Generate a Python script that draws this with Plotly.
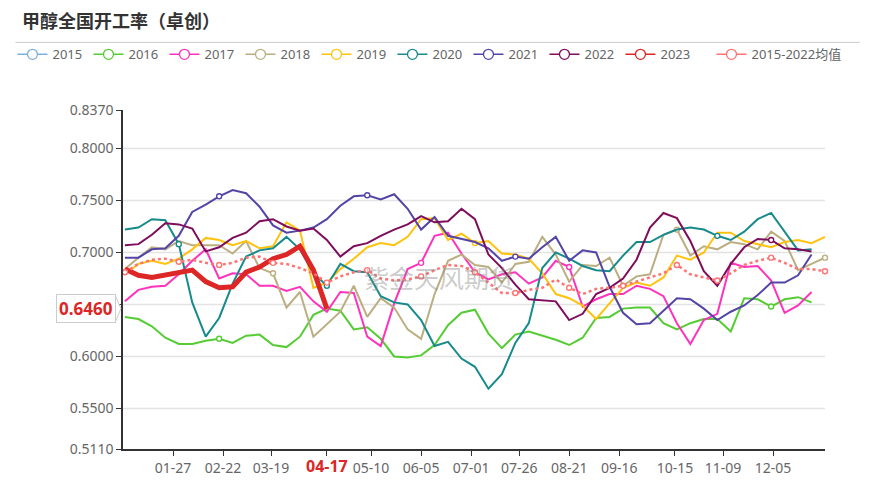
import pandas as pd
import plotly.graph_objects as go

TITLE = "甲醇全国开工率（卓创）"
WATERMARK = "紫金天风期货"

# weekly observation dates (mapped onto one calendar year)
WEEKS = pd.date_range("2023-01-02", periods=53, freq="7D")

TICK_DATES = ["2023-01-27", "2023-02-22", "2023-03-19", "2023-04-17", "2023-05-10",
              "2023-06-05", "2023-07-01", "2023-07-26", "2023-08-21", "2023-09-16",
              "2023-10-15", "2023-11-09", "2023-12-05"]
TICK_TEXT = ["01-27", "02-22", "03-19", "04-17", "05-10", "06-05", "07-01",
             "07-26", "08-21", "09-16", "10-15", "11-09", "12-05"]
Y_TICKS = [0.511, 0.55, 0.60, 0.65, 0.70, 0.75, 0.80, 0.837]

Y2015 = []
Y2016 = [0.638, 0.636, 0.629, 0.618, 0.612, 0.612, 0.615, 0.617, 0.613, 0.620, 0.621, 0.611, 0.609,
         0.619, 0.640, 0.646, 0.644, 0.626, 0.628, 0.617, 0.600, 0.599, 0.601, 0.611, 0.630, 0.642,
         0.645, 0.622, 0.608, 0.621, 0.624, 0.620, 0.616, 0.611, 0.618, 0.637, 0.638, 0.646, 0.647,
         0.647, 0.632, 0.626, 0.632, 0.636, 0.636, 0.624, 0.656, 0.655, 0.648, 0.655, 0.657, 0.652, None]
Y2017 = [0.653, 0.664, 0.667, 0.668, 0.679, 0.692, 0.703, 0.675, 0.680, 0.679, 0.668, 0.668, 0.663,
         0.667, 0.653, 0.643, 0.662, 0.661, 0.619, 0.610, 0.651, 0.684, 0.690, 0.716, 0.719, 0.699,
         0.681, 0.674, 0.679, 0.681, 0.670, 0.676, 0.692, 0.686, 0.648, 0.655, 0.660, 0.660, 0.668,
         0.665, 0.658, 0.632, 0.612, 0.635, 0.641, 0.690, 0.686, 0.687, 0.673, 0.642, 0.649, 0.662, None]
Y2018 = [0.684, 0.695, 0.705, 0.703, 0.711, 0.707, 0.707, 0.707, 0.699, 0.711, 0.685, 0.680, 0.647,
         0.662, 0.619, 0.631, 0.643, 0.668, 0.638, 0.656, 0.647, 0.626, 0.617, 0.660, 0.692, 0.698,
         0.688, 0.686, 0.671, 0.689, 0.691, 0.715, 0.698, 0.672, 0.688, 0.687, 0.695, 0.668, 0.677,
         0.679, 0.717, 0.722, 0.697, 0.706, 0.703, 0.710, 0.708, 0.703, 0.720, 0.711, 0.683, 0.689, 0.695]
Y2019 = [0.679, 0.689, 0.692, 0.689, 0.694, 0.703, 0.714, 0.712, 0.707, 0.711, 0.704, 0.706, 0.729,
         0.721, 0.666, 0.671, 0.684, 0.694, 0.705, 0.709, 0.707, 0.715, 0.732, 0.733, 0.712, 0.718,
         0.709, 0.711, 0.699, 0.698, 0.694, 0.680, 0.660, 0.656, 0.649, 0.636, 0.651, 0.666, 0.671,
         0.668, 0.676, 0.697, 0.693, 0.700, 0.719, 0.719, 0.711, 0.708, 0.705, 0.710, 0.712, 0.709, 0.715]
Y2020 = [0.722, 0.724, 0.732, 0.731, 0.708, 0.652, 0.619, 0.637, 0.670, 0.696, 0.702, 0.704, 0.715,
         0.703, 0.680, 0.668, 0.689, 0.682, 0.681, 0.658, 0.652, 0.650, 0.635, 0.610, 0.614, 0.598,
         0.590, 0.569, 0.583, 0.613, 0.632, 0.685, 0.700, 0.694, 0.687, 0.683, 0.682, 0.697, 0.710,
         0.710, 0.717, 0.722, 0.724, 0.722, 0.716, 0.712, 0.720, 0.732, 0.738, 0.720, 0.702, 0.703, None]
Y2021 = [0.695, 0.695, 0.703, 0.704, 0.716, 0.739, 0.746, 0.754, 0.760, 0.757, 0.744, 0.726, 0.719,
         0.721, 0.724, 0.732, 0.745, 0.754, 0.755, 0.751, 0.756, 0.742, 0.722, 0.734, 0.716, 0.713,
         0.710, 0.704, 0.692, 0.696, 0.694, 0.705, 0.715, 0.692, 0.702, 0.700, 0.667, 0.642, 0.631,
         0.632, 0.644, 0.656, 0.655, 0.646, 0.635, 0.643, 0.649, 0.659, 0.671, 0.671, 0.678, 0.698, None]
Y2022 = [0.707, 0.708, 0.717, 0.728, 0.727, 0.723, 0.701, 0.705, 0.714, 0.719, 0.730, 0.732, 0.725,
         0.721, 0.723, 0.712, 0.696, 0.706, 0.709, 0.716, 0.722, 0.727, 0.735, 0.729, 0.730, 0.742,
         0.732, 0.698, 0.685, 0.669, 0.655, 0.654, 0.653, 0.635, 0.641, 0.660, 0.666, 0.675, 0.693,
         0.724, 0.738, 0.733, 0.711, 0.682, 0.668, 0.689, 0.705, 0.713, 0.712, 0.704, 0.703, 0.701, None]
Y2023 = [0.684, 0.678, 0.676, 0.678, 0.681, 0.683, 0.672, 0.666, 0.667, 0.681, 0.686, 0.694, 0.698,
         0.706, 0.683, 0.646]
YMEAN = [0.681, 0.689, 0.693, 0.694, 0.691, 0.693, 0.690, 0.688, 0.690, 0.695, 0.696, 0.690, 0.689,
         0.685, 0.680, 0.671, 0.677, 0.681, 0.683, 0.675, 0.673, 0.674, 0.677, 0.683, 0.688, 0.687,
         0.681, 0.671, 0.661, 0.661, 0.664, 0.666, 0.674, 0.666, 0.660, 0.665, 0.666, 0.668, 0.672,
         0.676, 0.680, 0.688, 0.679, 0.676, 0.673, 0.680, 0.688, 0.692, 0.695, 0.690, 0.684, 0.684, 0.682]

# labelled dates on which each series has an observation (drawn as hollow symbols)
MARK_2016 = ["02-22", "12-05"]
MARK_2017 = ["06-05", "08-21"]
MARK_2018 = ["03-19", "10-15", "end"]
MARK_2019 = ["07-01"]
MARK_2020 = ["01-27", "04-17", "11-09"]
MARK_2021 = ["02-22", "05-10", "07-26"]
MARK_2022 = ["12-05"]
MARK_MEAN = ["start"] + TICK_TEXT + ["end"]

POINTER_VALUE = 0.646
POINTER_DATE = "2023-04-17"
POINTER_TEXT = "04-17"

SERIES = [
    ("2015", Y2015, "#7cb0dd", 2, "solid", [], "legend"),
    ("2016", Y2016, "#55cc33", 2, "solid", MARK_2016, "legend"),
    ("2017", Y2017, "#ff33bb", 2, "solid", MARK_2017, "legend"),
    ("2018", Y2018, "#bbae80", 2, "solid", MARK_2018, "legend"),
    ("2019", Y2019, "#ffc20e", 2, "solid", MARK_2019, "legend"),
    ("2020", Y2020, "#178a8c", 2, "solid", MARK_2020, "legend"),
    ("2021", Y2021, "#5544a6", 2, "solid", MARK_2021, "legend"),
    ("2022", Y2022, "#7e0d5c", 2, "solid", MARK_2022, "legend"),
    ("2023", Y2023, "#dd2626", 5, "solid", [], "legend"),
    ("2015-2022均值", YMEAN, "#ff7373", 2.5, "dot", MARK_MEAN, "legend2"),
]

tick_map = dict(zip(TICK_TEXT, pd.to_datetime(TICK_DATES)))


def marker_indices(n, labels):
    xs = WEEKS[:n]
    idx = set()
    for lab in labels:
        if lab == "start":
            idx.add(0)
        elif lab == "end":
            idx.add(n - 1)
        else:
            idx.add(int(abs(xs - tick_map[lab]).argmin()))
    return sorted(idx)


fig = go.Figure()
for name, vals, color, width, dash, marks, leg in SERIES:
    n = len([v for v in vals if v is not None])
    xs = list(WEEKS[:len(vals)])
    fig.add_trace(go.Scatter(
        x=xs, y=vals, mode="lines", showlegend=False, hoverinfo="skip",
        line=dict(color=color, width=width, dash=dash), cliponaxis=False,
    ))
    if marks and n:
        mi = marker_indices(n, marks)
        fig.add_trace(go.Scatter(
            x=[xs[i] for i in mi], y=[vals[i] for i in mi], mode="markers",
            showlegend=False, hoverinfo="skip", cliponaxis=False,
            marker=dict(symbol="circle", size=5, color="white",
                        line=dict(color=color, width=1.4)),
        ))
    fig.add_trace(go.Scatter(
        x=[None], y=[None], mode="lines+markers", name=name, legend=leg,
        line=dict(color=color, width=1.5),
        marker=dict(symbol="circle", size=10, color="white",
                    line=dict(color=color, width=1.3)),
    ))

shapes = []
for v in Y_TICKS[1:-1]:
    shapes.append(dict(type="line", xref="paper", x0=0, x1=1, yref="y", y0=v, y1=v,
                       line=dict(color="#e3e3e3", width=1.5), layer="below"))
# rule under the title
shapes.append(dict(type="line", xref="paper", x0=-0.1532, x1=1.0496, yref="paper",
                   y0=1.1994, y1=1.1994, line=dict(color="#cccccc", width=1)))
# pointer tip of the y-axis value label
shapes.append(dict(type="path", xref="paper", yref="y",
                   path="M -0.0105,%f L -0.003,%f L -0.0105,%f" % (
                       POINTER_VALUE + 0.012, POINTER_VALUE, POINTER_VALUE - 0.012),
                   fillcolor="white", line=dict(color="#cccccc", width=1), layer="above"))

# tick labels hidden where the axis-pointer labels sit on top of them
x_ticktext = ["" if t == POINTER_TEXT else t for t in TICK_TEXT]
y_ticktext = ["" if abs(v - POINTER_VALUE) < 0.005 else "%.4f" % v for v in Y_TICKS]

annotations = [
    dict(text=WATERMARK, xref="paper", yref="paper", x=0.45, y=0.507, showarrow=False,
         font=dict(family="Noto Sans CJK SC", size=25, color="rgba(140,140,140,0.45)")),
    dict(text="<b>%.4f</b>" % POINTER_VALUE, xref="paper", yref="y", x=-0.0099, y=POINTER_VALUE,
         xanchor="right", yanchor="middle", showarrow=False, bgcolor="white",
         bordercolor="#cccccc", borderwidth=1, borderpad=2,
         font=dict(family="Noto Sans, Noto Sans CJK SC", size=17, color="#dd2626")),
    dict(text="<b>%s</b>" % POINTER_TEXT, xref="x", yref="paper", x=POINTER_DATE, y=-0.05,
         xanchor="center", yanchor="middle", showarrow=False,
         font=dict(family="Noto Sans, Noto Sans CJK SC", size=16, color="#dd2626")),
]

legend_style = dict(orientation="h", xref="paper", yref="paper", y=(451 - 39) / 341,
                    xanchor="left", yanchor="top", font=dict(size=13, color="#666"),
                    itemwidth=30, bgcolor="rgba(0,0,0,0)", tracegroupgap=0)

fig.update_layout(
    width=872, height=489,
    margin=dict(l=120, r=47, t=110, b=38),
    paper_bgcolor="white", plot_bgcolor="white",
    font=dict(family="Noto Sans, Noto Sans CJK SC", color="#666"),
    title=dict(text="<b>%s</b>" % TITLE, x=22 / 872, xanchor="left", xref="container",
               y=1 - 22 / 489, yanchor="middle", yref="container",
               font=dict(family="Noto Sans CJK SC", size=18, color="#333")),
    xaxis=dict(type="date", range=["2023-01-01", "2024-01-01"], tickvals=TICK_DATES,
               ticktext=x_ticktext, showgrid=False, zeroline=False, showline=True,
               linecolor="#333", linewidth=1.5, ticks="outside", ticklen=5, tickcolor="#333",
               tickfont=dict(size=14, color="#666")),
    yaxis=dict(range=[0.511, 0.837], tickvals=Y_TICKS, ticktext=y_ticktext, showgrid=False,
               zeroline=False, showline=True, linecolor="#333", linewidth=1.5,
               ticks="outside", ticklen=5, tickcolor="#333",
               tickfont=dict(size=14, color="#666")),
    legend=dict(legend_style, x=(9 - 120) / 705, entrywidth=31, entrywidthmode="pixels"),
    legend2=dict(legend_style, x=(711 - 120) / 705),
    shapes=shapes,
    annotations=annotations,
    hovermode=False,
)

fig.write_html("out.html")
